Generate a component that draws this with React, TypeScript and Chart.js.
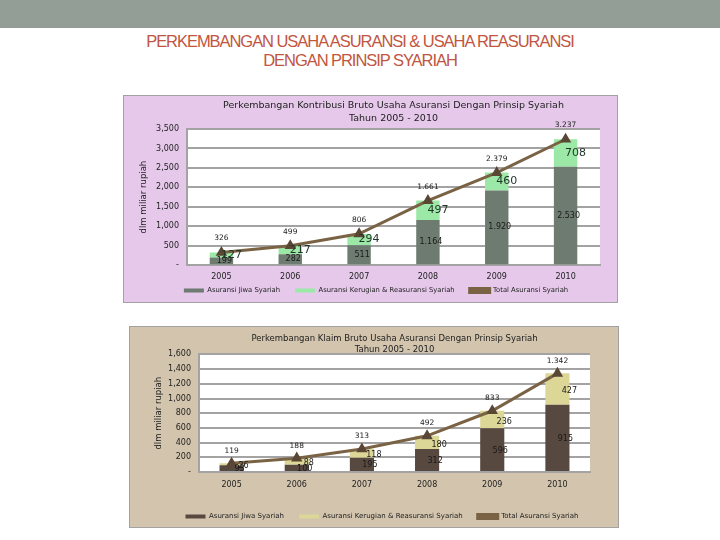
import React, { useEffect, useRef } from "react";
import { Chart, registerables } from "chart.js";

Chart.register(...registerables);

// ---------- data ----------
const years = ["2005", "2006", "2007", "2008", "2009", "2010"];

const kontribusiJiwa = [199, 282, 511, 1164, 1920, 2530];
const kontribusiKerugian = [127, 217, 294, 497, 460, 708];
const kontribusiTotal = [326, 499, 806, 1661, 2379, 3237];

const klaimJiwa = [93, 100, 195, 312, 596, 915];
const klaimKerugian = [26, 88, 118, 180, 236, 427];
const klaimTotal = [119, 188, 313, 492, 833, 1342];

const seriesNames = [
  "Asuransi Jiwa Syariah",
  "Asuransi Kerugian & Reasuransi Syariah",
  "Total Asuransi Syariah",
];

const titleKontribusi = [
  "Perkembangan Kontribusi Bruto Usaha Asuransi Dengan Prinsip Syariah",
  "Tahun 2005 - 2010",
];
const titleKlaim = [
  "Perkembangan Klaim Bruto Usaha Asuransi Dengan Prinsip Syariah",
  "Tahun 2005 - 2010",
];
const yAxisTitle = "dlm miliar rupiah";

const FONT = "'DejaVu Sans', sans-serif";
const GRID = "#a3a3a3";

const fmtDot = (v: number) => String(v).replace(/\B(?=(\d{3})+(?!\d))/g, ".");
const fmtTick = (v: number) => (v === 0 ? "-" : Number(v).toLocaleString("en-US"));

type LabelSpec = { size: number; color: string; dx: number; dy: number; where: "mid" | "top" };

function makeLabelPlugin(id: string, specs: LabelSpec[]) {
  return {
    id,
    afterDatasetsDraw(chart: any) {
      const ctx = chart.ctx;
      ctx.save();
      specs.forEach((s, di) => {
        const meta = chart.getDatasetMeta(di);
        const ds = chart.data.datasets[di];
        meta.data.forEach((el: any, i: number) => {
          const v = ds.data[i] as number;
          const x = el.x + s.dx;
          const y = s.where === "mid" ? (el.y + el.base) / 2 + s.dy : el.y + s.dy;
          ctx.font = `${s.size}px ${FONT}`;
          ctx.fillStyle = s.color;
          ctx.textAlign = "center";
          ctx.textBaseline = "middle";
          ctx.fillText(fmtDot(v), x, y);
        });
      });
      ctx.restore();
    },
  };
}

const plotBg = {
  id: "plotBg",
  beforeDraw(chart: any) {
    const { ctx, chartArea } = chart;
    if (!chartArea) return;
    ctx.save();
    ctx.fillStyle = "#ffffff";
    ctx.fillRect(chartArea.left, chartArea.top, chartArea.right - chartArea.left, chartArea.bottom - chartArea.top);
    ctx.restore();
  },
};

type Props = {
  left: number;
  top: number;
  width: number;
  height: number;
  extra: number;
  bg: string;
  jiwa: number[];
  kerugian: number[];
  total: number[];
  colJiwa: string;
  colKerugian: string;
  title: string[];
  titleSize: number;
  titleLH: number;
  titlePad: { top: number; bottom: number };
  yMax: number;
  yStep: number;
  padLeft: number;
  yWidth: number;
  rightWidth: number;
  xHeight: number;
  xMirror: boolean;
  xPad: number;
  tickSize: number;
  barPct: number;
  labels: LabelSpec[];
  yTitlePad: number;
  legendPad: number;
  legendSize: number;
};

function StackedChart(p: Props) {
  const ref = useRef<HTMLCanvasElement | null>(null);
  useEffect(() => {
    if (!ref.current) return;
    const chart = new Chart(ref.current, {
      type: "bar",
      data: {
        labels: years,
        datasets: [
          {
            type: "bar",
            label: seriesNames[0],
            data: p.jiwa,
            backgroundColor: p.colJiwa,
            stack: "parts",
            order: 1,
            barPercentage: p.barPct,
            categoryPercentage: 1,
          } as any,
          {
            type: "bar",
            label: seriesNames[1],
            data: p.kerugian,
            backgroundColor: p.colKerugian,
            stack: "parts",
            order: 1,
            barPercentage: p.barPct,
            categoryPercentage: 1,
          } as any,
          {
            type: "line",
            label: seriesNames[2],
            data: p.total,
            borderColor: "#7a6345",
            backgroundColor: "#7a6345",
            borderWidth: 3,
            pointStyle: "triangle",
            pointRadius: 3.6,
            pointBackgroundColor: "#5a4634",
            pointBorderColor: "#5a4634",
            stack: "total",
            order: 0,
            tension: 0,
          } as any,
        ],
      },
      options: {
        animation: false,
        responsive: true,
        maintainAspectRatio: false,
        layout: { padding: { left: p.padLeft, right: 0, top: 0, bottom: 0 } },
        scales: {
          x: {
            stacked: true,
            grid: { display: false, drawTicks: false },
            border: { display: true, color: GRID, width: 2 },
            ticks: { font: { family: FONT, size: p.tickSize }, color: "#222", padding: p.xPad, mirror: p.xMirror },
            afterFit: (s: any) => {
              s.height = p.xHeight;
            },
          },
          y: {
            stacked: true,
            min: 0,
            max: p.yMax,
            ticks: {
              stepSize: p.yStep,
              font: { family: FONT, size: p.tickSize },
              color: "#222",
              padding: 8,
              callback: (v: any) => fmtTick(Number(v)),
            },
            grid: { color: GRID, lineWidth: 2, drawTicks: false },
            border: { display: true, color: GRID, width: 2 },
            title: {
              display: true,
              text: yAxisTitle,
              font: { family: FONT, size: 8.5 },
              color: "#222",
              padding: { top: p.yTitlePad, bottom: 0 },
            },
            afterFit: (s: any) => {
              s.width = p.yWidth;
            },
          },
          y2: {
            position: "right",
            display: true,
            grid: { display: false, drawTicks: false },
            border: { display: false },
            ticks: { display: false },
            afterFit: (s: any) => {
              s.width = p.rightWidth;
            },
          },
        },
        plugins: {
          title: {
            display: true,
            text: p.title,
            fullSize: false,
            font: { family: FONT, size: p.titleSize, weight: "normal", lineHeight: p.titleLH },
            color: "#222",
            padding: p.titlePad,
          },
          legend: {
            position: "bottom",
            labels: {
              boxWidth: 20,
              boxHeight: 4,
              font: { family: FONT, size: p.legendSize },
              color: "#222",
              padding: p.legendPad,
              sort: (a: any, b: any) => a.datasetIndex - b.datasetIndex,
            },
          },
          tooltip: { enabled: false },
        },
      } as any,
      plugins: [plotBg, makeLabelPlugin("lbl" + p.top, p.labels)],
    });
    return () => chart.destroy();
  }, []);

  return (
    <div
      style={{
        position: "absolute",
        left: p.left,
        top: p.top,
        width: p.width,
        height: p.height,
        boxSizing: "border-box",
        border: "1px solid #a2a2a2",
        background: p.bg,
      }}
    >
      <div style={{ position: "relative", width: p.width - 2, height: p.height - 2 + p.extra }}>
        <canvas ref={ref} />
      </div>
    </div>
  );
}

export default function App() {
  return (
    <div style={{ position: "absolute", left: 0, top: 0, width: 720, height: 540, background: "#fff", overflow: "hidden" }}>
      <div style={{ position: "absolute", left: 0, top: 0, width: 720, height: 28, background: "#939f96" }} />
      <div
        style={{
          position: "absolute",
          left: 0,
          top: 31,
          width: 720,
          textAlign: "center",
          fontFamily: "'Liberation Sans', Arial, sans-serif",
          fontSize: 16.5,
          lineHeight: "20px",
          letterSpacing: "-1.05px",
          color: "#c1553f",
        }}
      >
        <div>PERKEMBANGAN USAHA ASURANSI &amp; USAHA REASURANSI</div>
        <div style={{ marginTop: -1 }}>DENGAN PRINSIP SYARIAH</div>
      </div>

      <StackedChart
        left={123}
        top={95}
        width={495}
        height={208}
        extra={2}
        bg="#e5c8ea"
        jiwa={kontribusiJiwa}
        kerugian={kontribusiKerugian}
        total={kontribusiTotal}
        colJiwa="#6d7b70"
        colKerugian="#9be8a7"
        title={titleKontribusi}
        titleSize={9.5}
        titleLH={1.37}
        titlePad={{ top: 3.5, bottom: 3.5 }}
        yMax={3500}
        yStep={500}
        padLeft={11}
        yWidth={52}
        rightWidth={17}
        xHeight={7}
        xMirror={true}
        xPad={-17}
        tickSize={8}
        barPct={0.34}
        yTitlePad={4}
        legendPad={15}
        legendSize={6.8}
        labels={[
          { size: 8, color: "#1a1a1a", dx: 3, dy: 0, where: "mid" },
          { size: 11, color: "#1f3326", dx: 10, dy: 0, where: "mid" },
          { size: 7.5, color: "#222", dx: 0, dy: -14, where: "top" },
        ]}
      />

      <StackedChart
        left={129}
        top={326}
        width={490}
        height={202}
        extra={3}
        bg="#d3c4ad"
        jiwa={klaimJiwa}
        kerugian={klaimKerugian}
        total={klaimTotal}
        colJiwa="#574840"
        colKerugian="#dcd796"
        title={titleKlaim}
        titleSize={8.5}
        titleLH={1.2}
        titlePad={{ top: 7, bottom: 0 }}
        yMax={1600}
        yStep={200}
        padLeft={16}
        yWidth={53}
        rightWidth={28}
        xHeight={26}
        xMirror={false}
        xPad={8}
        tickSize={8}
        barPct={0.37}
        yTitlePad={8}
        legendPad={15}
        legendSize={7}
        labels={[
          { size: 8, color: "#1a1a1a", dx: 8, dy: 1, where: "mid" },
          { size: 8, color: "#1a1a1a", dx: 12, dy: 2, where: "mid" },
          { size: 7.5, color: "#222", dx: 0, dy: -12.5, where: "top" },
        ]}
      />
    </div>
  );
}
